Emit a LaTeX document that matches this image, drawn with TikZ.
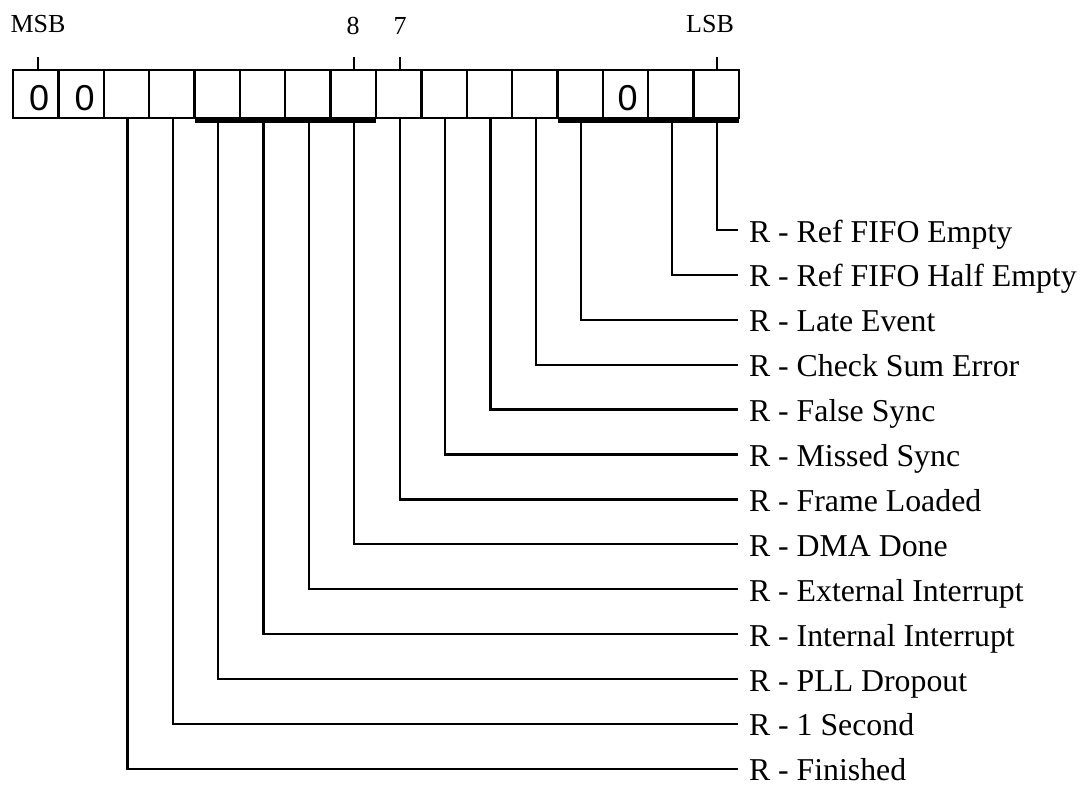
\documentclass[tikz,border=0pt]{standalone}
\usepackage{fontspec}
\setmainfont{Liberation Serif}
\newfontfamily\sansf{Liberation Sans}
\begin{document}
\begin{tikzpicture}[x=1pt,y=-1pt,
  line width=2.3pt,
  cell/.style={draw, minimum width=45.375pt, minimum height=48pt, inner sep=0pt, outer sep=0pt,
    text height=32pt, text depth=0pt, font=\sansf\fontsize{36}{36}\selectfont},
  bitlbl/.style={inner sep=0pt, anchor=base, font=\fontsize{26}{26}\selectfont},
  desc/.style={anchor=west, inner xsep=11pt, inner ysep=0pt, outer sep=0pt,
    text height=24pt, text depth=0pt, font=\fontsize{31.8}{31.8}\selectfont},
  bar/.style={line width=5.5pt},
  wire/.style={line width=2.3pt}]
\useasboundingbox (0,0) rectangle (1082,793);
% register cells
\foreach \i in {0,...,15}{
  \pgfmathsetmacro{\cx}{13+45.375*(\i+0.5)}
  \ifnum\i=0 \def\t{\hspace*{7pt}0}\else
  \ifnum\i=1 \def\t{\hspace*{7pt}0}\else
  \ifnum\i=13 \def\t{\hspace*{4pt}0}\else \def\t{}\fi\fi\fi
  \node[cell] (c\i) at (\cx,94) {\t};
}
% bit labels
\node[bitlbl] (msb) at (38,32) {MSB};
\node[bitlbl] (b8) at (353,34) {8};
\node[bitlbl] (b7) at (400,34) {7};
\node[bitlbl] (lsb) at (710,32) {LSB};
\draw[wire] ([xshift=2pt]c0.north) -- ++(0,-13);
\draw[wire] ([xshift=1pt]c7.north) -- ++(0,-13);
\draw[wire] ([xshift=1pt]c8.north) -- ++(0,-13);
\draw[wire] ([xshift=1pt]c15.north) -- ++(0,-13);
% thick bars
\draw[bar] ([yshift=-2pt]c4.south west) -- ([yshift=-2pt]c7.south east);
\draw[bar] ([yshift=-2pt]c12.south west) -- ([yshift=-2pt]c15.south east);
% descriptions
\node[desc] (d15) at (738,230.0) {R - Ref FIFO Empty};
\node[desc] (d14) at (738,274.9) {R - Ref FIFO Half Empty};
\node[desc] (d12) at (738,319.8) {R - Late Event};
\node[desc] (d11) at (738,364.7) {R - Check Sum Error};
\node[desc] (d10) at (738,409.6) {R - False Sync};
\node[desc] (d9) at (738,454.5) {R - Missed Sync};
\node[desc] (d8) at (738,499.4) {R - Frame Loaded};
\node[desc] (d7) at (738,544.3) {R - DMA Done};
\node[desc] (d6) at (738,589.2) {R - External Interrupt};
\node[desc] (d5) at (738,634.1) {R - Internal Interrupt};
\node[desc] (d4) at (738,679.0) {R - PLL Dropout};
\node[desc] (d3) at (738,723.9) {R - 1 Second};
\node[desc] (d2) at (738,768.8) {R - Finished};
% connectors
\foreach \i in {2,3,4,5,6,7,8,9,10,11,12,14,15}{
  \draw[wire] ([xshift=1pt]c\i.south) |- (d\i.west);
}
\end{tikzpicture}
\end{document}
